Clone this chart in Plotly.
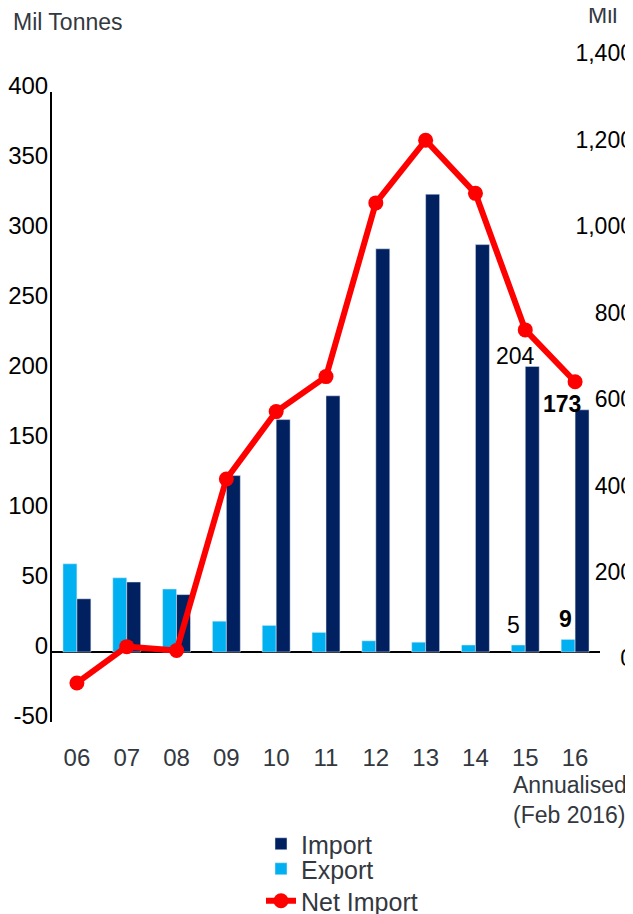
import plotly.graph_objects as go

years = ['06', '07', '08', '09', '10', '11', '12', '13', '14', '15', '16']
imports = [38, 50, 41, 126, 166, 183, 288, 327, 291, 204, 173]
exports = [63, 53, 45, 22, 19, 14, 8, 7, 5, 5, 9]
net_import = [-57, 27, 18, 415, 571, 652, 1054, 1199, 1076, 760, 640]

left_ticks = [-50, 0, 50, 100, 150, 200, 250, 300, 350, 400]
right_ticks = [0, 200, 400, 600, 800, 1000, 1200, 1400]

FONT = 'Liberation Sans, Arial, sans-serif'
GREY = '#333840'
W, H = 625, 906   # the page body adds an 8px margin around the plot


def px(x):
    return x / W


def py(y):
    return 1 - y / H


def legend_at(top):
    return dict(x=px(253), y=py(top), xanchor='left', yanchor='top',
                font=dict(size=25, color=GREY), bgcolor='rgba(0,0,0,0)')


fig = go.Figure()

fig.add_trace(go.Bar(x=years, y=exports, name='Export', marker_color='#00B0F0',
                     legend='legend2'))
fig.add_trace(go.Bar(x=years, y=imports, name='Import', marker_color='#002060',
                     legend='legend'))
fig.add_trace(go.Scatter(x=years, y=net_import, name='Net Import', yaxis='y2',
                         mode='lines+markers', legend='legend3',
                         line=dict(color='#FF0000', width=6),
                         marker=dict(color='#FF0000', size=15)))

fig.update_layout(
    width=W, height=H,
    margin=dict(l=0, r=0, t=0, b=0, autoexpand=False),
    paper_bgcolor='white', plot_bgcolor='rgba(0,0,0,0)',
    font=dict(family=FONT, size=23, color='black'),
    barmode='group', bargap=0.44, bargroupgap=0,
    xaxis=dict(type='category', domain=[px(44), px(592)], range=[-0.5, 10.5],
               automargin=False, showgrid=False, showline=False, ticks='',
               ticklabelstandoff=19, tickfont=dict(size=24, color=GREY)),
    yaxis=dict(domain=[py(714), py(84)], range=[-50, 400],
               automargin=False, tickvals=left_ticks,
               ticktext=[str(v) for v in left_ticks],
               showgrid=False, showline=True, linecolor='black', linewidth=2,
               zeroline=True, zerolinecolor='black', zerolinewidth=2,
               ticks='', ticklabelshift=-6, ticklabelstandoff=-3,
               tickfont=dict(size=24)),
    yaxis2=dict(domain=[0, 1], range=[-591.7, 1505.0], anchor='free', position=1,
                side='left', automargin=False, tickvals=right_ticks,
                tickformat=',', showgrid=False, showline=False, zeroline=False,
                ticks='', tickfont=dict(size=23)),
    legend=legend_at(813),
    legend2=legend_at(838),
    legend3=legend_at(870),
    showlegend=True,
)

# axis titles
fig.add_annotation(text='Mil Tonnes', xref='paper', yref='paper', x=px(3),
                   y=py(14), xanchor='left', yanchor='middle',
                   showarrow=False, font=dict(size=23, color=GREY))
fig.add_annotation(text='Mil Tonnes', xref='paper', yref='paper', x=px(578),
                   y=py(7), xanchor='left', yanchor='middle',
                   showarrow=False, font=dict(size=23, color=GREY))
fig.add_annotation(text='Annualised<br>(Feb 2016)', xref='paper', yref='paper',
                   x=px(503), y=py(792), xanchor='left', yanchor='middle',
                   align='left', showarrow=False, font=dict(size=23, color=GREY))

# value labels on the last two years (x given as category index)
i15, i16 = len(years) - 2, len(years) - 1
fig.add_annotation(text=str(imports[i15]), x=i15, y=imports[i15], xshift=-10,
                   yshift=10, showarrow=False, yanchor='middle',
                   font=dict(size=23, color='black'))
fig.add_annotation(text='<b>' + str(imports[i16]) + '</b>', x=i16, y=imports[i16],
                   xshift=-13, yshift=6, showarrow=False, yanchor='middle',
                   font=dict(size=23, color='black'))
fig.add_annotation(text=str(exports[i15]), x=i15, y=exports[i15], xshift=-12,
                   yshift=20, showarrow=False, yanchor='middle',
                   font=dict(size=23, color='black'))
fig.add_annotation(text='<b>' + str(exports[i16]) + '</b>', x=i16, y=exports[i16],
                   xshift=-10, yshift=20, showarrow=False, yanchor='middle',
                   font=dict(size=23, color='black'))

fig.write_html("out.html")
